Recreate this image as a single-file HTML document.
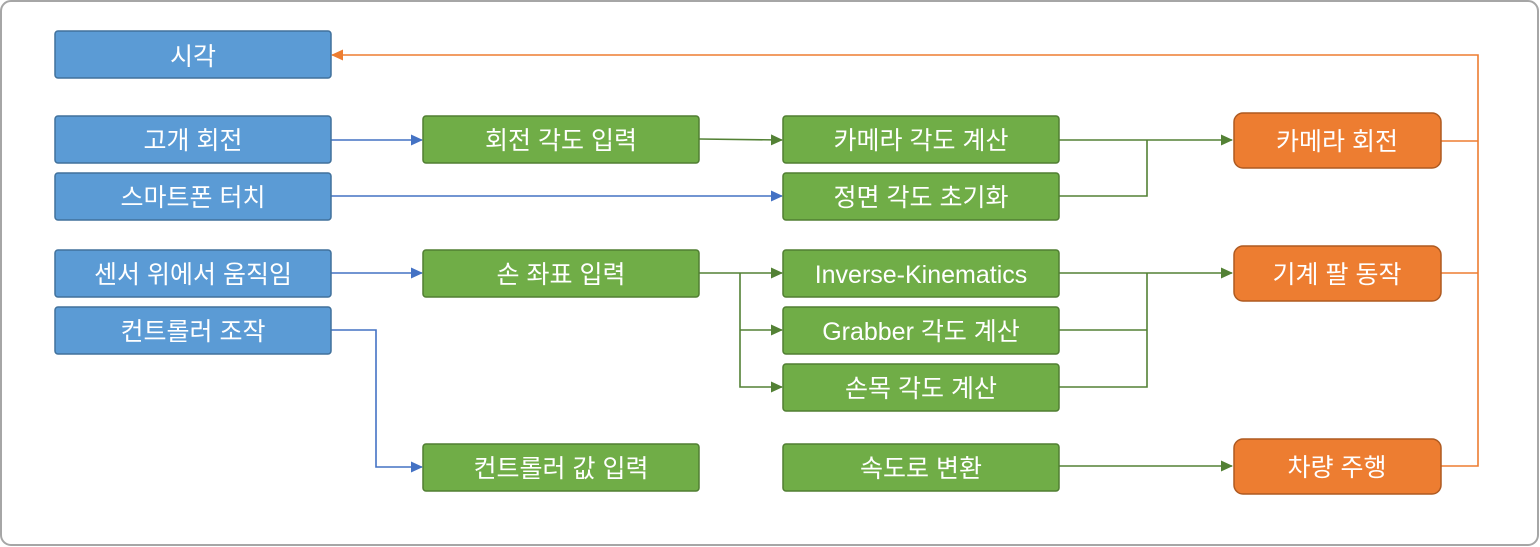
<!DOCTYPE html>
<html><head><meta charset="utf-8"><style>
html,body{margin:0;padding:0;background:#fff;width:1540px;height:547px;overflow:hidden}
text{font-family:"Liberation Sans","Noto Sans CJK KR",sans-serif;font-size:25px;fill:#fff;text-anchor:middle;dominant-baseline:central}
</style></head><body>
<svg width="1540" height="547" viewBox="0 0 1540 547" xmlns="http://www.w3.org/2000/svg">
<defs>
<marker id="ab" markerWidth="12" markerHeight="12" refX="11" refY="6" orient="auto" markerUnits="userSpaceOnUse"><path d="M0,0.5L12,6L0,11.5z" fill="#4472C4"/></marker>
<marker id="ag" markerWidth="12" markerHeight="12" refX="11" refY="6" orient="auto" markerUnits="userSpaceOnUse"><path d="M0,0.5L12,6L0,11.5z" fill="#538135"/></marker>
<marker id="ao" markerWidth="12" markerHeight="12" refX="11" refY="6" orient="auto" markerUnits="userSpaceOnUse"><path d="M0,0.5L12,6L0,11.5z" fill="#ED7D31"/></marker>
</defs>
<rect x="1" y="1" width="1537" height="544" rx="10" fill="#fff" stroke="#a6a6a6" stroke-width="2"/>
<g fill="none" stroke-width="1.6">
<path d="M331,140H422" stroke="#4472C4" marker-end="url(#ab)"/>
<path d="M331,196H782" stroke="#4472C4" marker-end="url(#ab)"/>
<path d="M331,273H422" stroke="#4472C4" marker-end="url(#ab)"/>
<path d="M331,330H376V467H422" stroke="#4472C4" marker-end="url(#ab)"/>
<path d="M699,139L782,140" stroke="#538135" marker-end="url(#ag)"/>
<path d="M1059,140H1232" stroke="#538135" marker-end="url(#ag)"/>
<path d="M1059,196H1147V140" stroke="#538135"/>
<path d="M699,273H782" stroke="#538135" marker-end="url(#ag)"/>
<path d="M740,273V387H782" stroke="#538135" marker-end="url(#ag)"/>
<path d="M740,330H782" stroke="#538135" marker-end="url(#ag)"/>
<path d="M1059,273H1232" stroke="#538135" marker-end="url(#ag)"/>
<path d="M1059,330H1147M1059,387H1147V273" stroke="#538135"/>
<path d="M1059,466H1232" stroke="#538135" marker-end="url(#ag)"/>
<path d="M1441,141H1478M1441,273H1478M1441,466H1478V55H332" stroke="#ED7D31" marker-end="url(#ao)"/>
</g>
<g fill="#5B9BD5" stroke="#41719C" stroke-width="1.5">
<rect x="55" y="31" width="276" height="47" rx="3"/>
<rect x="55" y="116" width="276" height="47" rx="3"/>
<rect x="55" y="173" width="276" height="47" rx="3"/>
<rect x="55" y="250" width="276" height="47" rx="3"/>
<rect x="55" y="307" width="276" height="47" rx="3"/>
</g>
<g fill="#70AD47" stroke="#507E32" stroke-width="1.5">
<rect x="423" y="116" width="276" height="47" rx="3"/>
<rect x="423" y="250" width="276" height="47" rx="3"/>
<rect x="423" y="444" width="276" height="47" rx="3"/>
<rect x="783" y="116" width="276" height="47" rx="3"/>
<rect x="783" y="173" width="276" height="47" rx="3"/>
<rect x="783" y="250" width="276" height="47" rx="3"/>
<rect x="783" y="307" width="276" height="47" rx="3"/>
<rect x="783" y="364" width="276" height="47" rx="3"/>
<rect x="783" y="444" width="276" height="47" rx="3"/>
</g>
<g fill="#ED7D31" stroke="#AE5A21" stroke-width="1.5">
<rect x="1234" y="113" width="207" height="55" rx="9"/>
<rect x="1234" y="246" width="207" height="55" rx="9"/>
<rect x="1234" y="439" width="207" height="55" rx="9"/>
</g>
<g transform="translate(0,2)">
<text x="193" y="55">시각</text>
<text x="193" y="139">고개 회전</text>
<text x="193" y="196">스마트폰 터치</text>
<text x="193" y="273">센서 위에서 움직임</text>
<text x="193" y="330">컨트롤러 조작</text>
<text x="561" y="139">회전 각도 입력</text>
<text x="561" y="273">손 좌표 입력</text>
<text x="561" y="467">컨트롤러 값 입력</text>
<text x="921" y="139">카메라 각도 계산</text>
<text x="921" y="196">정면 각도 초기화</text>
<text x="921" y="273">Inverse-Kinematics</text>
<text x="921" y="330">Grabber 각도 계산</text>
<text x="921" y="387">손목 각도 계산</text>
<text x="921" y="467">속도로 변환</text>
<text x="1337" y="140">카메라 회전</text>
<text x="1337" y="273">기계 팔 동작</text>
<text x="1337" y="466">차량 주행</text>
</g>
</svg>
</body></html>
